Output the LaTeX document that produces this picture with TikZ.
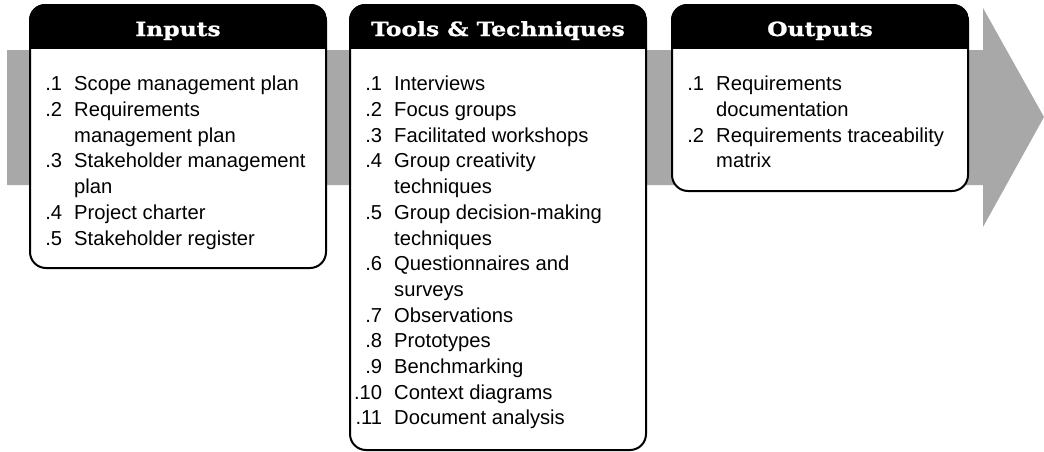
\documentclass[tikz,border=0pt]{standalone}
\usepackage{fontspec}
\setmainfont{Liberation Sans}
\newfontfamily\headfont[FakeStretch=1.2,FakeBold=1.2]{DejaVu Serif}
\usepackage{xcolor}
\usepackage{tikz}
\usetikzlibrary{positioning}
\definecolor{arrowgray}{RGB}{168,168,168}
\newlength{\numw}\setlength{\numw}{23pt}
\newcommand{\itm}[2]{\makebox[\numw][r]{#1}\hspace{12pt}#2}
\newcommand{\cnt}[1]{\hspace{\numw}\hspace{12pt}#1}

\begin{document}
\begin{tikzpicture}[x=1pt,y=-1pt,
  font={\fontsize{20.2}{25.7}\selectfont},
  procbox/.style={draw,line width=2pt,fill=white,rounded corners=16pt,minimum width=296pt,inner sep=0pt},
  headtext/.style={text=white,font={\headfont\bfseries\fontsize{19.5}{22}\selectfont},inner sep=0pt,anchor=base},
  itemlist/.style={align=left,inner sep=0pt,anchor=north west}]
  \useasboundingbox (0,0) rectangle (1044,451);
  % gray flow arrow behind the boxes
  \fill[arrowgray] (7,50) -- (983,50) -- (983,8) -- (1044,117) -- (983,227) -- (983,185) -- (7,185) -- cycle;
  \node[procbox,minimum height=263pt,anchor=north west] (inputs) at (29,4) {};
  \node[procbox,minimum height=445pt,right=22pt of inputs.north east,anchor=north west] (tools) {};
  \node[procbox,minimum height=186pt,right=24pt of tools.north east,anchor=north west] (outputs) {};
  % black header bands
  \foreach \b in {inputs,tools,outputs} {
    \begin{scope}
      \clip[rounded corners=16pt] (\b.south west) rectangle (\b.north east);
      \fill (\b.north west) rectangle ([yshift=-45pt]\b.north east);
    \end{scope}
  }
  \node[headtext] (inputs-head) at ([yshift=-32pt]inputs.north) {Inputs};
  \node[headtext] (tools-head) at ([yshift=-32pt]tools.north) {Tools \& Techniques};
  \node[headtext] (outputs-head) at ([yshift=-32pt]outputs.north) {Outputs};
  \node[itemlist] (inputs-list) at ([xshift=10pt,yshift=-72pt]inputs.north west)
    {\itm{.1}{Scope management plan}\\
     \itm{.2}{Requirements}\\
     \cnt{management plan}\\
     \itm{.3}{Stakeholder management}\\
     \cnt{plan}\\
     \itm{.4}{Project charter}\\
     \itm{.5}{Stakeholder register}};
  \node[itemlist] (tools-list) at ([xshift=10pt,yshift=-72pt]tools.north west)
    {\itm{.1}{Interviews}\\
     \itm{.2}{Focus groups}\\
     \itm{.3}{Facilitated workshops}\\
     \itm{.4}{Group creativity}\\
     \cnt{techniques}\\
     \itm{.5}{Group decision-making}\\
     \cnt{techniques}\\
     \itm{.6}{Questionnaires and}\\
     \cnt{surveys}\\
     \itm{.7}{Observations}\\
     \itm{.8}{Prototypes}\\
     \itm{.9}{Benchmarking}\\
     \itm{.10}{Context diagrams}\\
     \itm{.11}{Document analysis}};
  \node[itemlist] (outputs-list) at ([xshift=10pt,yshift=-72pt]outputs.north west)
    {\itm{.1}{Requirements}\\
     \cnt{documentation}\\
     \itm{.2}{Requirements traceability}\\
     \cnt{matrix}};
\end{tikzpicture}
\end{document}
